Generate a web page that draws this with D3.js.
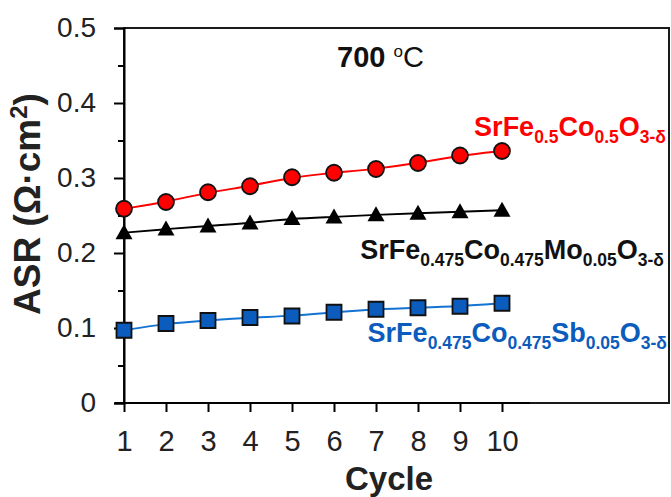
<!DOCTYPE html>
<html>
<head>
<meta charset="utf-8">
<script src="https://cdn.jsdelivr.net/npm/d3@7"></script>
<style>
  body { margin: 0; background: #fff; }
  svg { font-family: 'Liberation Sans', Arial, sans-serif; }
</style>
</head>
<body>
<script>
// Data
const cycles = [1, 2, 3, 4, 5, 6, 7, 8, 9, 10];
const sfcAsr = [0.259, 0.268, 0.281, 0.289, 0.301, 0.307, 0.312, 0.320, 0.330, 0.336];
const sfcmAsr = [0.227, 0.232, 0.236, 0.240, 0.246, 0.248, 0.251, 0.253, 0.255, 0.257];
const sfcsAsr = [0.097, 0.106, 0.110, 0.114, 0.116, 0.121, 0.125, 0.127, 0.129, 0.133];
const yTicks = [0, 0.1, 0.2, 0.3, 0.4, 0.5];
const yMinorTicks = [0.05, 0.15, 0.25, 0.35, 0.45];

// label pieces: [text, isSubscript]
const sfcLabel = [['SrFe', 0], ['0.5', 1], ['Co', 0], ['0.5', 1], ['O', 0], ['3-δ', 1]];
const sfcmLabel = [['SrFe', 0], ['0.475', 1], ['Co', 0], ['0.475', 1], ['Mo', 0], ['0.05', 1], ['O', 0], ['3-δ', 1]];
const sfcsLabel = [['SrFe', 0], ['0.475', 1], ['Co', 0], ['0.475', 1], ['Sb', 0], ['0.05', 1], ['O', 0], ['3-δ', 1]];

const width = 671;
const height = 497;
const svg = d3
  .select('body')
  .append('svg')
  .attr('width', width)
  .attr('height', height);

const x = d3.scaleLinear().domain([1, 10]).range([124, 502]);
const y = d3.scaleLinear().domain([0, 0.5]).range([403, 28]);

// frame around the plot area
svg
  .append('rect')
  .attr('x', 124)
  .attr('y', 28)
  .attr('width', 545)
  .attr('height', 375)
  .attr('fill', 'none')
  .attr('stroke', '#1a1a1a')
  .attr('stroke-width', 2);

// y axis, major + minor ticks
const yAxis = svg.append('g').attr('transform', `translate(${x(1)},0)`);
yAxis
  .call(
    d3.axisLeft(y)
      .tickValues(yTicks)
      .tickSize(10)
      .tickPadding(18)
      .tickFormat((d) => (d === 0 ? '0' : d3.format('.1f')(d)))
  )
  .call((g) => g.select('.domain').attr('stroke-width', 2))
  .call((g) => g.selectAll('.tick line').attr('stroke-width', 2))
  .call((g) => g.selectAll('text').attr('font-size', 28).attr('fill', '#222'));
yAxis
  .append('g')
  .call(d3.axisLeft(y).tickValues(yMinorTicks).tickSize(6).tickFormat(''))
  .call((g) => g.select('.domain').remove())
  .call((g) => g.selectAll('.tick line').attr('stroke-width', 2));

// x axis
const xAxis = svg.append('g').attr('transform', `translate(0,${y(0)})`);
xAxis
  .call(d3.axisBottom(x).tickValues(cycles).tickSize(9).tickPadding(18).tickSizeOuter(0))
  .call((g) => g.select('.domain').attr('d', 'M115,0H530').attr('stroke-width', 2))
  .call((g) => g.selectAll('.tick line').attr('stroke-width', 2))
  .call((g) => g.selectAll('text').attr('font-size', 29).attr('fill', '#222'));

// axis titles
svg
  .append('text')
  .attr('x', 389)
  .attr('y', 490)
  .attr('text-anchor', 'middle')
  .attr('font-size', 33)
  .attr('font-weight', 'bold')
  .attr('fill', '#222')
  .text('Cycle');

const yTitle = svg
  .append('text')
  .attr('transform', 'translate(40,204) rotate(-90)')
  .attr('text-anchor', 'middle')
  .attr('font-size', 37)
  .attr('font-weight', 'bold')
  .attr('fill', '#222');
yTitle.append('tspan').text('ASR (Ω·cm');
yTitle.append('tspan').attr('font-size', 24).attr('dy', -13).text('2');
yTitle.append('tspan').attr('dy', 13).text(')');

// temperature note
const note = svg
  .append('text')
  .attr('x', 337)
  .attr('y', 67)
  .attr('font-size', 29)
  .attr('font-weight', 'bold')
  .attr('fill', '#111');
note.append('tspan').text('700 ');
note.append('tspan').attr('font-size', 17).attr('dy', -10).attr('font-weight', 'normal').text('o');
note.append('tspan').attr('dy', 10).attr('font-weight', 'normal').attr('font-size', 29).text('C');

// smooth trend lines through the points
const line = d3
  .line()
  .x((d, i) => x(cycles[i]))
  .y((d) => y(d))
  .curve(d3.curveBasis);

const series = [
  { values: sfcAsr, color: '#ff0000', fill: '#ff0000', marker: 'circle' },
  { values: sfcmAsr, color: '#000000', fill: '#000000', marker: 'triangle' },
  { values: sfcsAsr, color: '#1373d2', fill: '#0b5cbc', marker: 'square' }
];

series.forEach((s) => {
  svg
    .append('path')
    .datum(s.values)
    .attr('d', line)
    .attr('fill', 'none')
    .attr('stroke', s.color)
    .attr('stroke-width', 2);

  svg
    .append('g')
    .selectAll('path')
    .data(s.values)
    .enter()
    .append('path')
    .attr('transform', (d, i) => `translate(${x(cycles[i])},${y(d)})`)
    .attr('d', () => {
      if (s.marker === 'circle') return d3.symbol(d3.symbolCircle, 200)();
      if (s.marker === 'square') return 'M-7.5,-7.5H7.5V7.5H-7.5Z';
      return 'M0,-8.5L8.5,6.5H-8.5Z';
    })
    .attr('fill', s.fill)
    .attr('stroke', '#111')
    .attr('stroke-width', s.marker === 'triangle' ? 0 : 1.8);
});

// compound labels
function drawLabel(parts, xEnd, yBase, color) {
  const t = svg
    .append('text')
    .attr('x', xEnd)
    .attr('y', yBase)
    .attr('text-anchor', 'end')
    .attr('font-weight', 'bold')
    .attr('fill', color);
  let shifted = false;
  parts.forEach(([txt, sub]) => {
    const ts = t.append('tspan').text(txt).attr('font-size', sub ? 17.5 : 27);
    if (sub && !shifted) { ts.attr('dy', 7); shifted = true; }
    if (!sub && shifted) { ts.attr('dy', -7); shifted = false; }
  });
}
drawLabel(sfcLabel, 666, 136, '#ff0000');
drawLabel(sfcmLabel, 664, 259, '#111');
drawLabel(sfcsLabel, 667, 342, '#0b5cbc');
</script>
</body>
</html>
